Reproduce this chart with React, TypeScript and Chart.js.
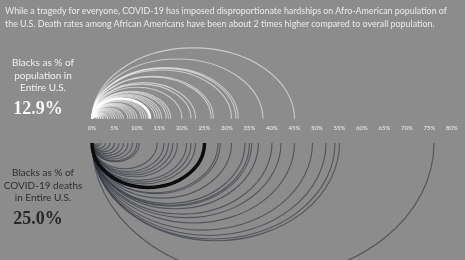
import React, { useEffect, useRef } from "react";
import { Chart, registerables } from "chart.js";

Chart.register(...registerables);

// Blacks as % of population, by state (upper arcs)
const populationShares = [45, 38, 32.5, 32, 31, 27, 26.5, 23, 22, 20, 17.5, 17, 16.5, 15.5, 15, 14.5, 14, 13, 12.5, 12, 11.5, 11, 10, 9.5, 9, 8.5, 8, 7, 6.5, 6, 5.5, 5, 4.5, 4, 3.5, 3.5, 3, 2.5, 2.5, 2, 2, 1.5, 1.5, 1.5, 1, 1, 0.5];
// Blacks as % of COVID-19 deaths, by state (lower arcs)
const deathShares = [76, 55, 54, 52, 49, 45, 42, 40, 37, 35.5, 35, 34, 31, 28.5, 28, 23, 22, 21, 19, 18, 17, 16, 14.5, 10.5, 10, 9, 8, 7, 6, 5, 4, 3, 2, 1.5, 1, 0.5];
const nationalPopulation = [12.9];
const nationalDeaths = [25.0];
const tickValues = [0, 5, 10, 15, 20, 25, 30, 35, 40, 45, 50, 55, 60, 65, 70, 75, 80];

const arcPlugin = {
  id: "arcs",
  afterDatasetsDraw(chart: any) {
    const ctx = chart.ctx;
    const xs = chart.scales.x;
    const x0 = xs.getPixelForValue(0);
    const upperBase = chart.chartArea.bottom;
    const lowerBase = xs.bottom + 5;
    chart.data.datasets.forEach((ds: any, i: number) => {
      const meta = chart.getDatasetMeta(i);
      const upper = ds.side === "upper";
      ctx.save();
      ctx.strokeStyle = ds.arcColor;
      ctx.lineWidth = ds.arcWidth;
      meta.data.forEach((pt: any) => {
        const rx = (pt.x - x0) / 2;
        if (rx <= 0) return;
        const ry = rx * (upper ? 0.7 : 0.79);
        ctx.beginPath();
        if (upper) ctx.ellipse(x0 + rx, upperBase, rx, ry, 0, Math.PI, 2 * Math.PI);
        else ctx.ellipse(x0 + rx, lowerBase, rx, ry, 0, 0, Math.PI);
        ctx.stroke();
      });
      ctx.restore();
    });
  },
};

export default function App() {
  const ref = useRef<HTMLCanvasElement | null>(null);
  useEffect(() => {
    document.body.style.margin = "0";
    const mk = (vals: number[]) => vals.map((v) => ({ x: v, y: 0 }));
    const chart = new Chart(ref.current as HTMLCanvasElement, {
      type: "scatter",
      data: {
        datasets: [
          { data: mk(deathShares), side: "lower", arcColor: "rgba(45,50,62,0.62)", arcWidth: 1.1, pointRadius: 0 } as any,
          { data: mk(nationalDeaths), side: "lower", arcColor: "#0d0d0d", arcWidth: 3.5, pointRadius: 0 } as any,
          { data: mk(populationShares), side: "upper", arcColor: "rgba(255,255,255,0.55)", arcWidth: 1.1, pointRadius: 0 } as any,
          { data: mk(nationalPopulation), side: "upper", arcColor: "rgba(255,255,255,0.95)", arcWidth: 2.5, pointRadius: 0 } as any,
        ],
      },
      options: {
        animation: false,
        responsive: false,
        events: [],
        layout: { padding: { left: 92, right: 13, top: 40, bottom: 122 } },
        plugins: { legend: { display: false }, tooltip: { enabled: false } },
        scales: {
          x: {
            type: "linear",
            min: 0,
            max: 80,
            border: { display: false },
            grid: { display: false, drawTicks: false },
            afterBuildTicks: (s: any) => {
              s.ticks = tickValues.map((v) => ({ value: v }));
            },
            ticks: {
              padding: 6,
              color: "#f0f0f0",
              font: { size: 6, family: "Lato" },
              callback: (v: any) => v + "%",
            },
          },
          y: { display: false, min: 0, max: 1 },
        },
      },
      plugins: [arcPlugin],
    });
    return () => chart.destroy();
  }, []);

  const sans = "Lato, 'Open Sans', sans-serif";
  const centered = (text: string, cy: number, color: string, extra: any) => (
    <div
      key={text + cy}
      style={{ position: "absolute", left: 43, top: cy, transform: "translate(-50%, -50%)", color, whiteSpace: "nowrap", lineHeight: 1, ...extra }}
    >
      {text}
    </div>
  );
  const textStyle = { fontFamily: sans, fontSize: 10 };
  const bigStyle = { fontFamily: "'Liberation Serif', 'DejaVu Serif', serif", fontWeight: "bold", fontSize: 18, left: 38 };

  return (
    <div style={{ position: "relative", width: 465, height: 260, background: "#8c8c8c", overflow: "hidden" }}>
      <canvas ref={ref} width={465} height={260} style={{ position: "absolute", left: 0, top: 0 }} />
      <div style={{ position: "absolute", left: 5, top: 5, color: "#ececec", fontFamily: sans, fontSize: 8.9, lineHeight: "12.5px", whiteSpace: "nowrap" }}>
        While a tragedy for everyone, COVID-19 has imposed disproportionate hardships on Afro-American population of
        <br />
        the U.S. Death rates among African Americans have been about 2 times higher compared to overall population.
      </div>
      {centered("Blacks as % of", 62, "#f2f2f2", textStyle)}
      {centered("population in", 74.5, "#f2f2f2", textStyle)}
      {centered("Entire U.S.", 87, "#f2f2f2", textStyle)}
      {centered("12.9%", 108, "#f8f8f8", bigStyle)}
      {centered("Blacks as % of", 172, "#2e2e2e", textStyle)}
      {centered("COVID-19 deaths", 184.5, "#2e2e2e", textStyle)}
      {centered("in Entire U.S.", 197, "#2e2e2e", textStyle)}
      {centered("25.0%", 218, "#262626", bigStyle)}
    </div>
  );
}
